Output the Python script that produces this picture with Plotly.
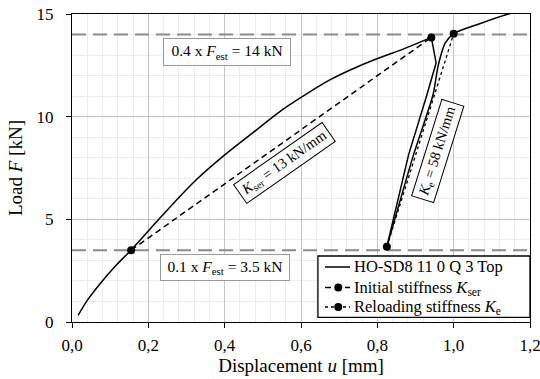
import plotly.graph_objects as go

# ---- data ----
load_u = [0.016, 0.040, 0.073, 0.115, 0.155, 0.2395, 0.327, 0.401, 0.4844, 0.5455, 0.598, 0.6766, 0.7466, 0.8078, 0.8689, 0.9415]
load_F = [0.32, 1.05, 1.85, 2.75, 3.51, 5.25, 6.95, 8.15, 9.37, 10.26, 10.91, 11.80, 12.42, 12.88, 13.30, 13.86]
unload_u = [0.9415, 0.954, 0.930, 0.882, 0.825]
unload_F = [13.86, 12.62, 11.07, 8.15, 3.67]
reload_u = [0.825, 0.895, 0.946, 0.959, 0.978, 1.000, 1.061, 1.143, 1.200]
reload_F = [3.67, 8.15, 11.07, 12.45, 13.59, 14.05, 14.48, 15.00, 15.25]

kser_u = [0.155, 0.9415]
kser_F = [3.5, 13.86]
ke_u = [0.825, 1.000]
ke_F = [3.67, 14.04]

level_F = [3.5, 14.0]
x_range = [0.0, 1.2]

x_tickvals = [0.0, 0.2, 0.4, 0.6, 0.8, 1.0, 1.2]
x_ticktext = ["0,0", "0,2", "0,4", "0,6", "0,8", "1,0", "1,2"]
y_tickvals = [0, 5, 10, 15]
y_ticktext = ["0", "5", "10", "15"]

series_names = ["HO-SD8 11 0 Q 3 Top",
                "Initial stiffness <i>K</i><sub>ser</sub>",
                "Reloading stiffness <i>K</i><sub>e</sub>"]
series_dash = ["solid", "6px,4px", "dot"]
series_marker = [False, True, True]

FONT = "'Liberation Serif', 'Times New Roman', serif"

fig = go.Figure()

# reference levels
for lv in level_F:
    fig.add_trace(go.Scatter(x=x_range, y=[lv, lv], mode="lines",
                             line=dict(color="#8a8a8a", width=2, dash="14px,7px"),
                             showlegend=False, hoverinfo="skip"))

main_line = dict(color="black", width=1.5)
fig.add_trace(go.Scatter(x=load_u, y=load_F, mode="lines",
                         line=dict(shape="spline", smoothing=1, **main_line),
                         name=series_names[0], showlegend=False))
fig.add_trace(go.Scatter(x=unload_u, y=unload_F, mode="lines", line=main_line, showlegend=False))
fig.add_trace(go.Scatter(x=reload_u, y=reload_F, mode="lines",
                         line=dict(shape="spline", smoothing=0.6, **main_line), showlegend=False))
fig.add_trace(go.Scatter(x=kser_u, y=kser_F, mode="lines+markers",
                         line=dict(color="black", width=1.5, dash=series_dash[1]),
                         marker=dict(color="black", size=8),
                         name=series_names[1], showlegend=False))
fig.add_trace(go.Scatter(x=ke_u, y=ke_F, mode="lines+markers",
                         line=dict(color="black", width=1.3, dash=series_dash[2]),
                         marker=dict(color="black", size=8),
                         name=series_names[2], showlegend=False))

box_font = dict(family=FONT, size=15.5, color="black")
rot_font = dict(family=FONT, size=14.5, color="black")
fig.add_annotation(x=0.4057, y=13.17, text="0.4 x <i>F</i><sub>est</sub> = 14 kN",
                   showarrow=False, font=box_font, bgcolor="white", width=120, height=20,
                   bordercolor="#9a9a9a", borderwidth=1, borderpad=3)
fig.add_annotation(x=0.401, y=2.67, text="0.1 x <i>F</i><sub>est</sub> = 3.5 kN",
                   showarrow=False, font=box_font, bgcolor="white", width=122, height=19,
                   bordercolor="#9a9a9a", borderwidth=1, borderpad=3)
fig.add_annotation(x=0.5565, y=7.74, text="<i>K</i><sub>ser</sub> = 13 kN/mm",
                   showarrow=False, font=rot_font, bgcolor="white", textangle=-35,
                   width=102, height=17,
                   bordercolor="black", borderwidth=1, borderpad=2.5)
fig.add_annotation(x=0.9586, y=8.32, text="<i>K</i><sub>e</sub> = 58 kN/mm",
                   showarrow=False, font=rot_font, bgcolor="white", textangle=-72.6,
                   width=95, height=17,
                   bordercolor="black", borderwidth=1, borderpad=2.5)

# ---- legend (drawn in plot-area fractions) ----
leg_x0, leg_x1, leg_y0, leg_y1 = 0.537, 1.0, 0.0153, 0.2143
row_y = [0.1786, 0.112, 0.0487]
smp_x0, smp_x1, smp_mx, txt_x = 0.5524, 0.607, 0.5814, 0.6114
fig.add_shape(type="rect", xref="paper", yref="paper", x0=leg_x0, x1=leg_x1, y0=leg_y0, y1=leg_y1,
              line=dict(color="black", width=1.3), fillcolor="white", layer="above")
for name, dash, mk, ry in zip(series_names, series_dash, series_marker, row_y):
    fig.add_shape(type="line", xref="paper", yref="paper", x0=smp_x0, x1=smp_x1, y0=ry, y1=ry,
                  line=dict(color="black", width=1.5, dash=dash), layer="above")
    if mk:
        fig.add_shape(type="circle", xref="paper", yref="paper", xsizemode="pixel", ysizemode="pixel",
                      xanchor=smp_mx, yanchor=ry, x0=-4, x1=4, y0=-4, y1=4,
                      line=dict(color="black", width=0), fillcolor="black", layer="above")
    fig.add_annotation(xref="paper", yref="paper", x=txt_x, y=ry, xanchor="left", yanchor="middle",
                       text=name, showarrow=False, font=dict(family=FONT, size=16.5, color="black"))

axis_common = dict(showline=True, linecolor="black", linewidth=1.3, mirror=True,
                   ticks="outside", ticklen=5, tickcolor="black", tickwidth=1.3,
                   showgrid=True, gridcolor="#c4c4c4", gridwidth=1, automargin=False,
                   ticklabeloverflow="allow",
                   zeroline=False, tickfont=dict(family=FONT, size=17, color="black"))

fig.update_xaxes(range=x_range, tickmode="array", tickvals=x_tickvals, ticktext=x_ticktext,
                 minor=dict(dtick=0.04, showgrid=True, gridcolor="#ececec", gridwidth=1),
                 ticklabelstandoff=2,
                 title=dict(text="Displacement <i>u</i> [mm]", font=dict(family=FONT, size=19, color="black"),
                            standoff=4),
                 **axis_common)
fig.update_yaxes(range=[0, 15], tickmode="array", tickvals=y_tickvals, ticktext=y_ticktext,
                 minor=dict(dtick=1, showgrid=True, gridcolor="#ececec", gridwidth=1),
                 ticklabelstandoff=9,
                 title=dict(text="Load <i>F</i> [kN]", font=dict(family=FONT, size=19, color="black"),
                            standoff=8),
                 **axis_common)

fig.update_layout(
    width=540, height=379,
    margin=dict(l=72, r=10, t=14, b=57),
    plot_bgcolor="white", paper_bgcolor="white",
    font=dict(family=FONT, size=16, color="black"),
    showlegend=False,
)

fig.write_html("out.html")
